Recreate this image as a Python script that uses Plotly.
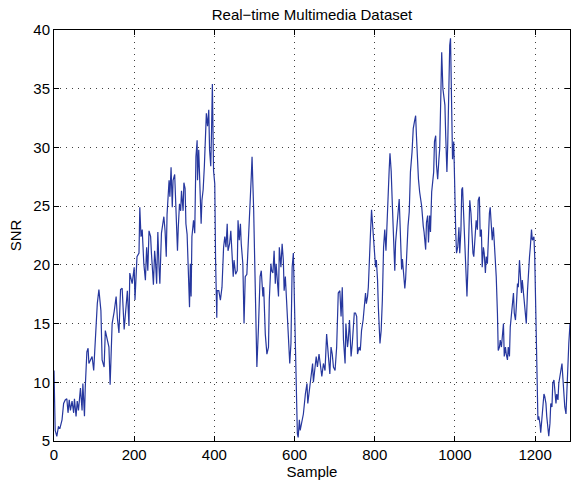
import plotly.graph_objects as go

sample = [0, 2, 3, 7, 11, 15, 20, 24, 28, 32, 35, 38, 41, 45, 49, 51, 55, 58, 61, 66, 70, 72, 76, 78, 82, 85, 87, 91, 95, 99,
          103, 108, 112, 117, 120, 125, 128, 133, 137, 140, 145, 150, 155, 158, 162, 166, 170, 175, 178, 183, 187, 189, 195, 200,
          202, 204, 207, 212, 214, 217, 220, 224, 228, 231, 234, 237, 241, 243, 248, 251, 253, 256, 259, 262, 264, 268, 272, 274,
          277, 280, 282, 287, 289, 292, 295, 297, 301, 303, 306, 308, 310, 313, 316, 318, 322, 324, 327, 329, 332, 336, 338, 340,
          342, 344, 348, 351, 354, 357, 358, 361, 363, 367, 369, 372, 375, 377, 380, 383, 386, 388, 391, 393, 395, 398, 401, 403,
          406, 407, 411, 415, 419, 423, 426, 429, 432, 434, 438, 441, 444, 447, 449, 453, 457, 459, 462, 465, 467, 471, 474, 477,
          481, 484, 486, 488, 492, 494, 498, 502, 506, 510, 514, 517, 521, 523, 527, 531, 535, 537, 541, 543, 546, 549, 552, 554,
          557, 560, 562, 566, 569, 572, 574, 577, 580, 583, 586, 588, 591, 594, 597, 600, 602, 604, 607, 609, 612, 614, 618, 622,
          627, 631, 633, 637, 641, 645, 647, 651, 654, 657, 661, 664, 668, 672, 676, 680, 684, 688, 691, 694, 697, 701, 705, 709,
          713, 716, 719, 722, 726, 728, 732, 734, 737, 741, 744, 747, 749, 752, 755, 757, 761, 764, 767, 771, 774, 777, 779, 782,
          784, 787, 789, 792, 794, 797, 799, 802, 804, 807, 809, 812, 813, 816, 819, 822, 825, 828, 831, 833, 836, 838, 841, 844,
          847, 850, 852, 855, 858, 861, 863, 867, 869, 872, 875, 877, 881, 883, 886, 889, 893, 896, 899, 902, 904, 907, 909, 912,
          915, 917, 921, 923, 927, 929, 932, 934, 937, 939, 942, 944, 947, 949, 952, 954, 957, 960, 962, 965, 967, 970, 972, 975,
          977, 980, 982, 985, 987, 989, 992, 994, 997, 999, 1002, 1004, 1007, 1010, 1012, 1015, 1017, 1019, 1022, 1024, 1027, 1030,
          1032, 1035, 1037, 1040, 1042, 1045, 1047, 1051, 1053, 1056, 1058, 1061, 1063, 1066, 1068, 1071, 1073, 1076, 1078, 1081,
          1083, 1086, 1088, 1091, 1093, 1096, 1098, 1101, 1103, 1106, 1108, 1111, 1113, 1116, 1118, 1121, 1123, 1126, 1128, 1131,
          1133, 1136, 1138, 1141, 1143, 1146, 1148, 1151, 1153, 1156, 1158, 1161, 1163, 1166, 1168, 1171, 1173, 1176, 1178, 1181,
          1183, 1186, 1188, 1191, 1193, 1197, 1199, 1202, 1204, 1207, 1209, 1212, 1214, 1217, 1219, 1222, 1224, 1227, 1229, 1232,
          1234, 1237, 1239, 1242, 1244, 1247, 1249, 1252, 1254, 1257, 1259, 1262, 1264, 1267, 1269, 1272, 1274, 1277, 1279, 1282,
          1284, 1286, 1287]

snr = [11.0, 6.8, 5.9, 5.4, 6.2, 6.1, 6.8, 8.2, 8.5, 8.6, 7.4, 8.5, 7.6, 8.4, 7.4, 8.6, 7.1, 8.4, 7.6, 9.5, 7.6, 9.9, 7.1, 9.6,
       12.6, 12.9, 11.6, 11.9, 12.2, 11.0, 13.6, 16.7, 17.9, 16.1, 11.9, 11.3, 14.4, 13.5, 13.0, 9.8, 15.0, 16.0, 17.3, 15.5,
       14.2, 17.9, 18.0, 14.5, 16.0, 17.8, 14.8, 19.3, 18.4, 19.8, 17.0, 18.1, 20.7, 21.0, 24.9, 22.4, 23.0, 20.1, 18.7, 21.5,
       19.5, 22.9, 22.4, 21.0, 18.3, 21.2, 20.4, 18.4, 22.8, 19.8, 18.4, 22.7, 23.8, 24.1, 22.9, 20.7, 24.3, 27.2, 25.8, 28.3,
       24.9, 27.2, 27.7, 25.8, 23.8, 21.2, 23.2, 25.2, 24.6, 26.3, 24.6, 27.0, 26.5, 23.5, 22.6, 17.3, 16.4, 20.1, 17.3, 22.4,
       23.8, 22.7, 29.2, 30.6, 27.2, 29.8, 27.5, 23.5, 25.5, 26.4, 28.4, 30.1, 32.9, 31.8, 33.2, 29.8, 28.4, 31.5, 35.4, 28.0,
       26.9, 20.4, 15.5, 17.8, 17.8, 17.0, 18.1, 21.5, 22.4, 21.5, 23.5, 21.2, 21.8, 22.9, 20.1, 19.0, 20.4, 19.2, 19.5, 23.8,
       22.1, 23.5, 21.8, 20.1, 15.0, 19.0, 19.2, 21.2, 23.5, 24.7, 27.5, 29.2, 24.7, 18.0, 11.3, 14.7, 19.0, 19.5, 17.3, 18.1,
       14.1, 12.4, 13.0, 17.0, 20.1, 19.5, 19.3, 21.2, 18.4, 20.1, 18.1, 17.3, 21.5, 19.8, 21.8, 20.4, 17.8, 19.0, 17.0, 14.7,
       13.0, 11.6, 13.3, 19.8, 21.0, 15.6, 11.9, 7.9, 5.6, 5.3, 6.8, 5.9, 6.5, 7.3, 9.0, 9.9, 8.2, 9.3, 10.7, 11.6, 10.0, 11.3,
       12.2, 11.3, 12.4, 11.6, 10.5, 11.6, 11.0, 14.1, 12.2, 10.7, 13.0, 12.4, 11.3, 11.0, 13.0, 17.6, 17.8, 15.6, 18.1, 13.6,
       11.6, 15.0, 13.0, 13.6, 15.3, 12.2, 13.3, 14.7, 15.9, 15.9, 15.6, 12.4, 13.0, 12.7, 14.4, 15.3, 16.4, 17.6, 16.7, 17.3,
       18.1, 21.5, 22.4, 24.7, 23.5, 22.7, 21.0, 19.8, 20.4, 18.7, 16.4, 14.7, 13.3, 14.4, 17.0, 21.5, 23.0, 21.2, 24.0, 26.9,
       28.1, 29.5, 28.0, 25.0, 22.0, 19.5, 21.9, 23.0, 23.9, 25.6, 23.6, 19.6, 20.5, 18.8, 18.0, 18.8, 22.2, 23.3, 24.5, 27.9,
       29.6, 31.6, 32.2, 32.7, 31.0, 28.5, 27.3, 26.2, 25.6, 25.0, 23.3, 22.8, 21.3, 23.6, 24.2, 21.9, 24.2, 22.8, 26.2, 26.8,
       27.9, 30.5, 31.0, 28.5, 27.3, 29.0, 29.9, 34.7, 38.1, 35.0, 34.4, 33.6, 31.0, 27.9, 30.2, 36.4, 38.7, 39.3, 31.9, 29.0,
       30.5, 26.2, 22.8, 21.0, 21.5, 23.2, 21.0, 23.0, 26.4, 26.6, 24.1, 22.1, 19.8, 17.3, 19.3, 24.9, 25.5, 24.4, 22.4, 21.0,
       20.7, 23.2, 23.8, 23.0, 25.5, 25.8, 22.4, 23.0, 19.8, 21.5, 21.0, 19.3, 20.7, 20.1, 22.1, 24.4, 24.9, 23.0, 22.1, 23.2,
       22.1, 19.8, 19.0, 15.9, 12.7, 13.0, 13.6, 13.0, 14.1, 15.0, 12.2, 13.0, 12.4, 11.9, 13.0, 12.2, 14.7, 15.9, 16.7, 17.6,
       15.9, 15.3, 16.4, 18.4, 18.1, 20.4, 19.3, 17.6, 18.7, 17.6, 17.0, 16.1, 15.0, 17.8, 19.5, 20.7, 21.5, 23.0, 22.1, 22.4,
       20.7, 15.0, 10.5, 6.8, 7.1, 6.5, 5.7, 6.8, 7.9, 9.0, 8.8, 8.2, 7.1, 5.7, 5.4, 6.5, 8.2, 7.9, 9.9, 10.2, 9.0, 8.2, 9.0,
       8.5, 9.9, 10.5, 11.0, 11.6, 10.5, 8.8, 7.9, 7.3, 9.3, 12.2, 13.3, 14.4, 15.0]

x_ticks = [0, 200, 400, 600, 800, 1000, 1200]
y_ticks = [5, 10, 15, 20, 25, 30, 35, 40]

fig = go.Figure()
fig.add_trace(go.Scatter(x=sample, y=snr, mode="lines",
                         line=dict(color="rgb(38,55,158)", width=1.2)))

font = dict(family="Liberation Sans, Arial, sans-serif", size=15, color="black")
axis_common = dict(showline=True, linecolor="black", linewidth=1, mirror="ticks",
                   ticks="inside", ticklen=5, tickcolor="black", showgrid=True,
                   gridcolor="rgba(0,0,0,0.75)", griddash="1px,5px", gridwidth=1,
                   zeroline=False, tickfont=font)

fig.update_layout(
    width=571, height=485,
    margin=dict(l=54, r=1, t=30, b=44),
    paper_bgcolor="white", plot_bgcolor="white",
    showlegend=False,
    title=dict(text="Real\u2212time Multimedia Dataset", x=0.5, xref="paper", xanchor="center",
               y=1, yref="paper", yanchor="bottom", pad=dict(b=10),
               font=dict(family="Liberation Sans, Arial, sans-serif", size=15, color="black")),
    xaxis=dict(range=[0, 1287], tickvals=x_ticks, title=dict(text="Sample", font=font, standoff=0), **axis_common),
    yaxis=dict(range=[5, 40], tickvals=y_ticks, title=dict(text="SNR", font=font, standoff=8), **axis_common),
)

fig.write_html(
    "out.html",
    config={"displayModeBar": False, "staticPlot": True},
    post_script="document.documentElement.style.margin='0';document.body.style.margin='0';"
                "document.documentElement.style.overflow='hidden';document.body.style.overflow='hidden';",
)
